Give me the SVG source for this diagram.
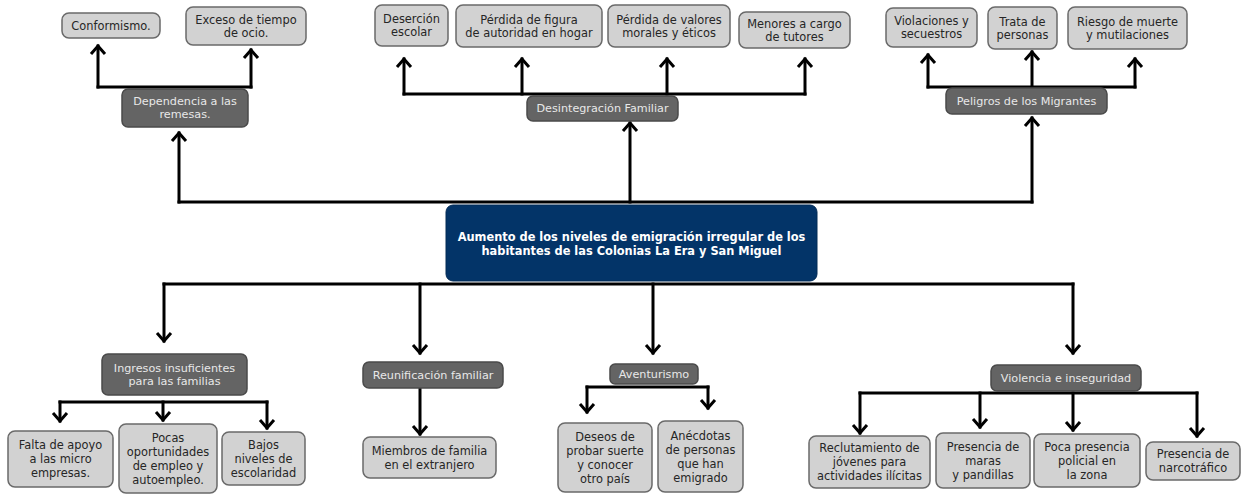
<svg xmlns="http://www.w3.org/2000/svg" width="1243" height="498" viewBox="0 0 1243 498">
<style>
.lt rect{fill:#d2d2d2;stroke:#6a6a6a;stroke-width:1.5}
.dk rect{fill:#646464;stroke:#4a4a4a;stroke-width:1.5}
.mn rect{fill:#033468;stroke:#022a55;stroke-width:1}
text{font-family:"DejaVu Sans",Verdana,sans-serif;text-anchor:middle;dominant-baseline:central}
.lt text{font-size:11.4px;fill:#262626}
.dk text{font-size:11.2px;fill:#e8e8e8}
.mn text{font-size:11.4px;font-weight:bold;fill:#fff}
#connectors path{fill:none;stroke:#000;stroke-width:3;stroke-linecap:square}
</style>
<defs>
<marker id="ah" markerUnits="userSpaceOnUse" markerWidth="24" markerHeight="24" refX="0" refY="0" orient="auto" overflow="visible">
<path d="M-8,-7 L0,0 L-8,7" fill="none" stroke="#000" stroke-width="3"/>
</marker>
</defs>
<rect width="1243" height="498" fill="#fff"/>
<g id="connectors">
<path d="M179,202 H1032"/>
<path d="M179,202 V133" marker-end="url(#ah)"/>
<path d="M630,202 V123" marker-end="url(#ah)"/>
<path d="M1032,202 V118" marker-end="url(#ah)"/>
<path d="M98,87 H251"/>
<path d="M98,87 V46" marker-end="url(#ah)"/>
<path d="M251,87 V50" marker-end="url(#ah)"/>
<path d="M404,94 H805"/>
<path d="M404,94 V59" marker-end="url(#ah)"/>
<path d="M522,94 V59" marker-end="url(#ah)"/>
<path d="M667,94 V59" marker-end="url(#ah)"/>
<path d="M805,94 V59" marker-end="url(#ah)"/>
<path d="M928,87 H1135"/>
<path d="M928,87 V55" marker-end="url(#ah)"/>
<path d="M1032,87 V52" marker-end="url(#ah)"/>
<path d="M1135,87 V59" marker-end="url(#ah)"/>
<path d="M164,284 H1073"/>
<path d="M164,284 V341" marker-end="url(#ah)"/>
<path d="M420,284 V353" marker-end="url(#ah)"/>
<path d="M653,284 V353" marker-end="url(#ah)"/>
<path d="M1073,284 V353" marker-end="url(#ah)"/>
<path d="M60,402 H267"/>
<path d="M60,402 V421" marker-end="url(#ah)"/>
<path d="M163,402 V420" marker-end="url(#ah)"/>
<path d="M267,402 V428" marker-end="url(#ah)"/>
<path d="M420,388 V434" marker-end="url(#ah)"/>
<path d="M587,387 H708"/>
<path d="M587,387 V412" marker-end="url(#ah)"/>
<path d="M708,387 V408" marker-end="url(#ah)"/>
<path d="M860,393 H1197"/>
<path d="M860,393 V433" marker-end="url(#ah)"/>
<path d="M980,393 V427" marker-end="url(#ah)"/>
<path d="M1073,393 V430" marker-end="url(#ah)"/>
<path d="M1197,393 V436" marker-end="url(#ah)"/>
</g>
<g id="n-main" class="mn"><rect x="446" y="205" width="371" height="76" rx="7"/><text x="631.5" y="237">Aumento de los niveles de emigración irregular de los</text><text x="631.5" y="250.5">habitantes de las Colonias La Era y San Miguel</text></g>
<g id="n-conformismo" class="lt"><rect x="62" y="13" width="98" height="25" rx="7"/><text x="111" y="25.5">Conformismo.</text></g>
<g id="n-exceso" class="lt"><rect x="186" y="7" width="120" height="38" rx="7"/><text x="246" y="19.5">Exceso de tiempo</text><text x="246" y="32.5">de ocio.</text></g>
<g id="n-dependencia" class="dk"><rect x="122" y="89" width="126" height="38" rx="6"/><text x="185" y="101.5">Dependencia a las</text><text x="185" y="114.5">remesas.</text></g>
<g id="n-desercion" class="lt"><rect x="375" y="5" width="73" height="41" rx="7"/><text x="411.5" y="19">Deserción</text><text x="411.5" y="32">escolar</text></g>
<g id="n-figura" class="lt"><rect x="456" y="5" width="146" height="42" rx="7"/><text x="529" y="19.5">Pérdida de figura</text><text x="529" y="32.5">de autoridad en hogar</text></g>
<g id="n-valores" class="lt"><rect x="608" y="5" width="122" height="42" rx="7"/><text x="669" y="19.5">Pérdida de valores</text><text x="669" y="32.5">morales y éticos</text></g>
<g id="n-menores" class="lt"><rect x="739" y="12" width="111" height="36" rx="7"/><text x="794.5" y="23.5">Menores a cargo</text><text x="794.5" y="36.5">de tutores</text></g>
<g id="n-desintegracion" class="dk"><rect x="527" y="96" width="151" height="25" rx="6"/><text x="602.5" y="108.5">Desintegración Familiar</text></g>
<g id="n-violaciones" class="lt"><rect x="886" y="8" width="91" height="39" rx="7"/><text x="931.5" y="21">Violaciones y</text><text x="931.5" y="34">secuestros</text></g>
<g id="n-trata" class="lt"><rect x="988" y="7" width="69" height="42" rx="7"/><text x="1022.5" y="21.5">Trata de</text><text x="1022.5" y="34.5">personas</text></g>
<g id="n-riesgo" class="lt"><rect x="1068" y="7" width="119" height="42" rx="7"/><text x="1127.5" y="21.5">Riesgo de muerte</text><text x="1127.5" y="34.5">y mutilaciones</text></g>
<g id="n-peligros" class="dk"><rect x="946" y="88" width="161" height="26" rx="6"/><text x="1026.5" y="101">Peligros de los Migrantes</text></g>
<g id="n-ingresos" class="dk"><rect x="102" y="354" width="145" height="41" rx="6"/><text x="174.5" y="368">Ingresos insuficientes</text><text x="174.5" y="381">para las familias</text></g>
<g id="n-falta" class="lt"><rect x="8" y="431" width="105" height="56" rx="7"/><text x="60.5" y="445">Falta de apoyo</text><text x="60.5" y="459">a las micro</text><text x="60.5" y="473">empresas.</text></g>
<g id="n-pocas" class="lt"><rect x="119" y="424" width="98" height="69" rx="7"/><text x="168" y="437.5">Pocas</text><text x="168" y="451.5">oportunidades</text><text x="168" y="465.5">de empleo y</text><text x="168" y="479.5">autoempleo.</text></g>
<g id="n-bajos" class="lt"><rect x="222" y="432" width="83" height="53" rx="7"/><text x="263.5" y="444.5">Bajos</text><text x="263.5" y="458.5">niveles de</text><text x="263.5" y="472.5">escolaridad</text></g>
<g id="n-reunificacion" class="dk"><rect x="363" y="362" width="140" height="26" rx="6"/><text x="433" y="375">Reunificación familiar</text></g>
<g id="n-miembros" class="lt"><rect x="363" y="437" width="133" height="41" rx="7"/><text x="429.5" y="450.5">Miembros de familia</text><text x="429.5" y="464.5">en el extranjero</text></g>
<g id="n-aventurismo" class="dk"><rect x="610" y="364" width="88" height="20" rx="5"/><text x="654" y="374">Aventurismo</text></g>
<g id="n-deseos" class="lt"><rect x="558" y="423" width="94" height="69" rx="7"/><text x="605" y="436.5">Deseos de</text><text x="605" y="450.5">probar suerte</text><text x="605" y="464.5">y conocer</text><text x="605" y="478.5">otro país</text></g>
<g id="n-anecdotas" class="lt"><rect x="658" y="421" width="85" height="71" rx="7"/><text x="700.5" y="435.5">Anécdotas</text><text x="700.5" y="449.5">de personas</text><text x="700.5" y="463.5">que han</text><text x="700.5" y="477.5">emigrado</text></g>
<g id="n-violencia" class="dk"><rect x="991" y="365" width="150" height="26" rx="6"/><text x="1066" y="378">Violencia e inseguridad</text></g>
<g id="n-reclutamiento" class="lt"><rect x="809" y="436" width="121" height="52" rx="7"/><text x="869.5" y="448">Reclutamiento de</text><text x="869.5" y="462">jóvenes para</text><text x="869.5" y="476">actividades ilícitas</text></g>
<g id="n-maras" class="lt"><rect x="936" y="433" width="94" height="55" rx="7"/><text x="983" y="446.5">Presencia de</text><text x="983" y="460.5">maras</text><text x="983" y="474.5">y pandillas</text></g>
<g id="n-policia" class="lt"><rect x="1034" y="434" width="106" height="53" rx="7"/><text x="1087" y="446.5">Poca presencia</text><text x="1087" y="460.5">policial en</text><text x="1087" y="474.5">la zona</text></g>
<g id="n-narco" class="lt"><rect x="1146" y="442" width="94" height="38" rx="7"/><text x="1193" y="454">Presencia de</text><text x="1193" y="468">narcotráfico</text></g>
</svg>
